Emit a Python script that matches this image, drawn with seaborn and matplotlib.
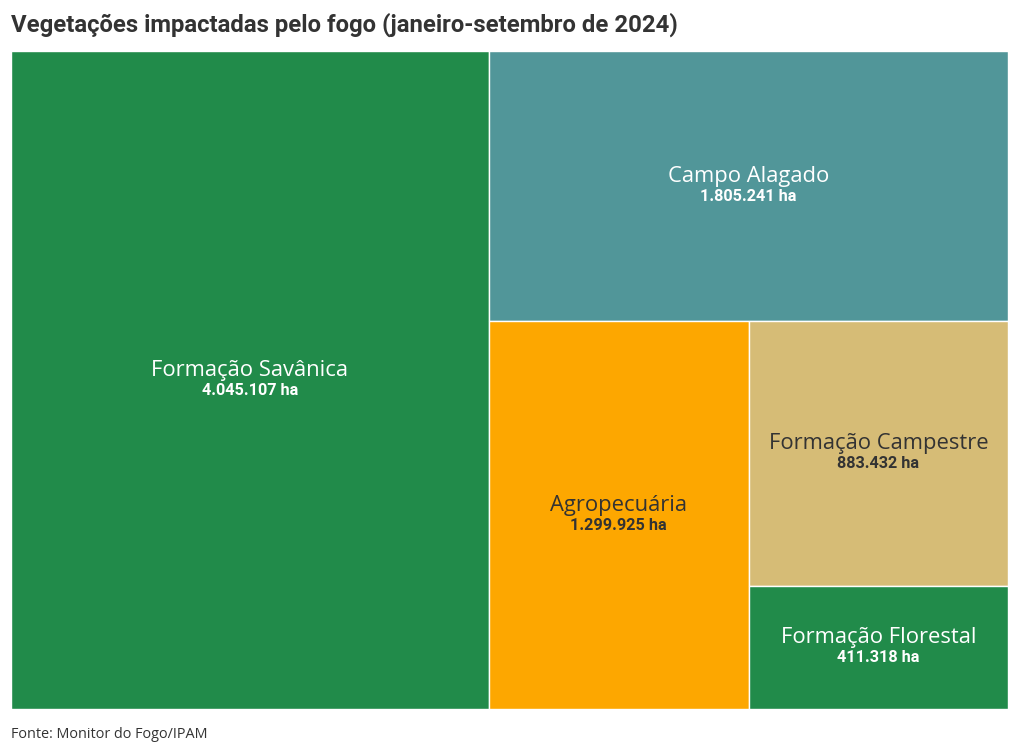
import matplotlib
matplotlib.use("Agg")
import matplotlib.pyplot as plt
import seaborn as sns

# Data
categories = ["Formação Savânica", "Campo Alagado", "Agropecuária",
              "Formação Campestre", "Formação Florestal"]
values = [4045107, 1805241, 1299925, 883432, 411318]
colors = ["#218b4a", "#519699", "#fda700", "#d6bc76", "#218b4a"]
text_colors = ["white", "white", "#333333", "#333333", "white"]

title = "Vegetações impactadas pelo fogo (janeiro-setembro de 2024)"
source = "Fonte: Monitor do Fogo/IPAM"

W, H = 997.0, 658.0


def worst(row, side):
    s = sum(row)
    return max(max(side * side * r / (s * s), s * s / (side * side * r)) for r in row)


def squarify(areas, x, y, w, h):
    # squarified treemap (Bruls et al.), y grows downward
    rects = []
    areas = list(areas)
    while areas:
        side = min(w, h)
        row = [areas[0]]
        i = 1
        while i < len(areas) and worst(row + [areas[i]], side) <= worst(row, side):
            row.append(areas[i])
            i += 1
        areas = areas[i:]
        s = sum(row)
        if w >= h:
            rw = s / h
            yy = y
            for a in row:
                rh = a / rw
                rects.append((x, yy, rw, rh))
                yy += rh
            x += rw
            w -= rw
        else:
            rh = s / w
            xx = x
            for a in row:
                rw = a / rh
                rects.append((xx, y, rw, rh))
                xx += rw
            y += rh
            h -= rh
    return rects


total = sum(values)
areas = [v / total * W * H for v in values]
rects = squarify(areas, 0, 0, W, H)

sns.set_theme(style="white")
plt.rcParams["font.family"] = ["Roboto", "DejaVu Sans"]

fig = plt.figure(figsize=(10.2, 7.54), dpi=100)
ax = fig.add_axes([11 / 1020, 1 - 709 / 754, 997 / 1020, 658 / 754])

for (x, y, w, h), c in zip(rects, colors):
    ax.bar(x, h, width=w, bottom=y, align="edge", color=c,
           edgecolor="white", linewidth=1)

for (x, y, w, h), name, v, tc in zip(rects, categories, values, text_colors):
    cx, cy = x + w / 2, y + h / 2
    ax.text(cx, cy + 1, name, ha="center", va="bottom", color=tc,
            fontsize=15.8, family=["Open Sans", "DejaVu Sans"])
    ax.text(cx, cy + 3, f"{v:,}".replace(",", ".") + " ha", ha="center",
            va="top", color=tc, fontsize=11.7, fontweight="bold")

ax.set_xlim(0, W)
ax.set_ylim(H, 0)
ax.axis("off")

fig.text(11 / 1020, 1 - 25 / 754, title, ha="left", va="center",
         fontsize=17.2, fontweight="bold", color="#333333")
fig.text(11 / 1020, 1 - 735 / 754, source, ha="left", va="center",
         fontsize=10.4, color="#333333", family=["Open Sans", "DejaVu Sans"])

fig.savefig("out.png", dpi=100, facecolor="white")
